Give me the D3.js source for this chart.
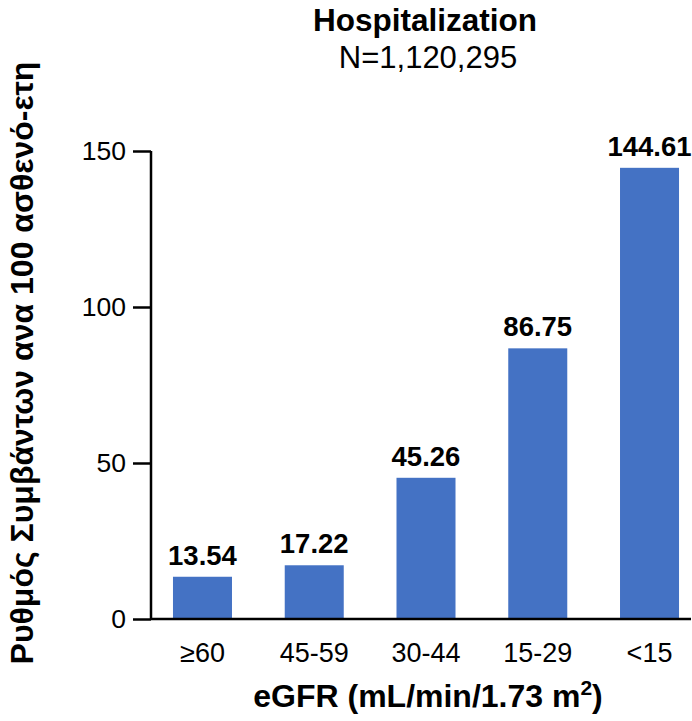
<!DOCTYPE html>
<html>
<head>
<meta charset="utf-8">
<script src="https://cdn.jsdelivr.net/npm/d3@7"></script>
<style>
  html, body { margin: 0; padding: 0; background: #fff; }
  svg { display: block; font-family: "Liberation Sans", Arial, sans-serif; }
</style>
</head>
<body>
<svg id="chart" width="692" height="721"></svg>
<script>
// eGFR groups and hospitalization event rates per 100 patient-years
const categories = ["≥60", "45-59", "30-44", "15-29", "<15"];
const rates = [13.54, 17.22, 45.26, 86.75, 144.61];
const rateLabels = ["13.54", "17.22", "45.26", "86.75", "144.61"];
const yTicks = [0, 50, 100, 150];

const titleText = "Hospitalization";
const subtitleText = "N=1,120,295";
const yTitle = "Ρυθμός Συμβάντων ανα 100 ασθενό-ετη";

const svg = d3.select("#chart");

const plotLeft = 151, plotRight = 691;
const y = d3.scaleLinear().domain([0, 150]).range([619, 151]);
const x = d3.scaleBand()
  .domain(categories)
  .range([146.6, 705.4])
  .paddingInner(0.472)
  .paddingOuter(0.236);

// bars
svg.append("g").selectAll("rect")
  .data(rates)
  .join("rect")
  .attr("x", (d, i) => x(categories[i]))
  .attr("width", x.bandwidth())
  .attr("y", d => y(d))
  .attr("height", d => y(0) - y(d))
  .attr("fill", "#4472C4");

// value labels
svg.append("g").selectAll("text")
  .data(rates)
  .join("text")
  .attr("x", (d, i) => x(categories[i]) + x.bandwidth() / 2)
  .attr("y", d => y(d) - 12)
  .attr("text-anchor", "middle")
  .attr("font-size", 27.5)
  .attr("font-weight", "bold")
  .attr("fill", "#000")
  .text((d, i) => rateLabels[i]);

// y axis
const yAxis = svg.append("g")
  .attr("transform", `translate(${plotLeft},0)`)
  .call(d3.axisLeft(y).tickValues(yTicks).tickSize(18).tickPadding(7));
yAxis.select(".domain").attr("stroke", "#000").attr("stroke-width", 2.5)
  .attr("d", `M0,${y(150)}V${y(0)}`);
yAxis.selectAll(".tick line").attr("stroke", "#000").attr("stroke-width", 2.5);
yAxis.selectAll(".tick text")
  .attr("font-size", 26.5)
  .attr("fill", "#000")
  .attr("font-family", "'Liberation Sans', Arial, sans-serif");

// x axis baseline and category labels
const xAxis = svg.append("g")
  .attr("transform", `translate(0,${y(0)})`)
  .call(d3.axisBottom(x).tickSize(0).tickPadding(24));
xAxis.select(".domain").attr("stroke", "#000").attr("stroke-width", 2.5)
  .attr("d", `M${plotLeft},0H${plotRight}`);
xAxis.selectAll(".tick text")
  .attr("font-size", 27)
  .attr("fill", "#000")
  .attr("font-family", "'Liberation Sans', Arial, sans-serif");

// titles
svg.append("text")
  .attr("x", 425).attr("y", 31)
  .attr("text-anchor", "middle")
  .attr("font-size", 31.5).attr("font-weight", "bold")
  .text(titleText);
svg.append("text")
  .attr("x", 428).attr("y", 68)
  .attr("text-anchor", "middle")
  .attr("font-size", 31)
  .text(subtitleText);

// x axis title with superscript
const xt = svg.append("text")
  .attr("x", 428).attr("y", 707)
  .attr("text-anchor", "middle")
  .attr("font-size", 32).attr("font-weight", "bold");
xt.append("tspan").text("eGFR (mL/min/1.73 m");
xt.append("tspan").attr("font-size", 21).attr("dy", -12).text("2");
xt.append("tspan").attr("dy", 12).text(")");

// y axis title
svg.append("text")
  .attr("transform", "translate(33,363) rotate(-90)")
  .attr("text-anchor", "middle")
  .attr("font-size", 32).attr("font-weight", "bold")
  .text(yTitle);
</script>
</body>
</html>
